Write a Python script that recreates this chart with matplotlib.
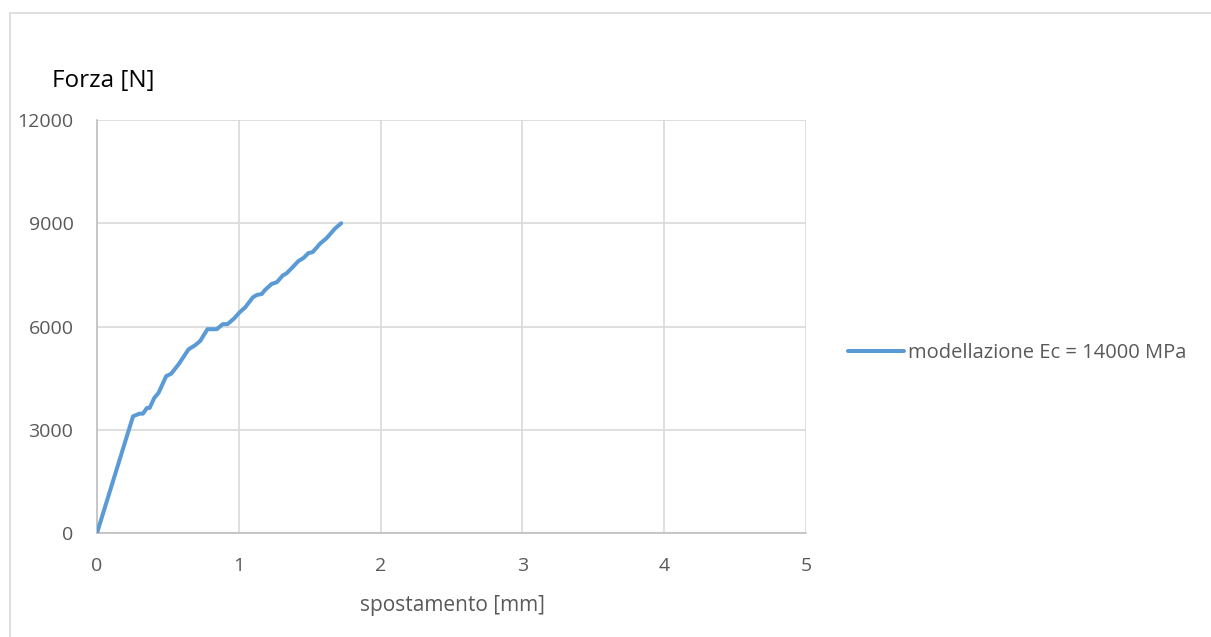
import matplotlib
matplotlib.use("Agg")
import matplotlib.pyplot as plt
from matplotlib.patches import Rectangle

# Load-displacement curve (displacement in mm, force in N)
spostamento = [0.0, 0.254, 0.300, 0.324, 0.352, 0.371, 0.404, 0.434, 0.488, 0.523,
               0.575, 0.646, 0.692, 0.728, 0.779, 0.845, 0.887, 0.920, 0.967, 1.005,
               1.045, 1.099, 1.127, 1.162, 1.185, 1.232, 1.268, 1.310, 1.338, 1.373,
               1.420, 1.455, 1.491, 1.521, 1.573, 1.620, 1.678, 1.722]
forza = [0, 3390, 3468, 3468, 3633, 3633, 3925, 4071, 4558, 4627,
         4899, 5338, 5455, 5581, 5922, 5922, 6068, 6068, 6234, 6409,
         6555, 6847, 6916, 6945, 7062, 7237, 7286, 7481, 7549, 7695,
         7899, 7987, 8133, 8162, 8406, 8571, 8844, 9000]
serie_label = "modellazione Ec = 14000 MPa"

x_ticks = [0, 1, 2, 3, 4, 5]
y_ticks = [0, 3000, 6000, 9000, 12000]

W, H = 1211, 637
fig = plt.figure(figsize=(W / 100, H / 100), dpi=100)
plt.rcParams['font.family'] = ['Open Sans', 'DejaVu Sans']

text_color = "#595959"
grid_color = "#d9d9d9"
line_color = "#5b9bd5"

# chart frame
fig.patches.append(Rectangle((10 / W, -0.05), 1.1, (H - 12.5) / H + 0.05,
                             transform=fig.transFigure, fill=False,
                             edgecolor=grid_color, linewidth=1.2))

left, right, top, bottom = 97, 806, 120, 533
ax = fig.add_axes([left / W, 1 - bottom / H, (right - left) / W, (bottom - top) / H])

ax.plot(spostamento, forza, color=line_color, linewidth=2.9,
        solid_capstyle="round", solid_joinstyle="round", label=serie_label, zorder=3)

ax.set_xlim(0, 5)
ax.set_ylim(0, 12000)
ax.set_xticks(x_ticks)
ax.set_yticks(y_ticks)
ax.set_xticklabels([str(t) for t in x_ticks])
ax.set_yticklabels([str(t) for t in y_ticks])
ax.grid(True, color=grid_color, linewidth=1.2, zorder=0)
ax.set_axisbelow(True)

for side in ["top", "right"]:
    ax.spines[side].set_visible(False)
for side in ["left", "bottom"]:
    ax.spines[side].set_color("#bfbfbf")
    ax.spines[side].set_linewidth(1.2)

ax.tick_params(axis="both", length=0, colors=text_color, labelsize=14)
ax.tick_params(axis="x", pad=17)
ax.tick_params(axis="y", pad=17)

fig.text(452 / W, 1 - 605 / H, "spostamento [mm]", ha="center", va="center",
         fontsize=15, color=text_color)
fig.text(52 / W, 1 - 81 / H, "Forza [N]", ha="left", va="center",
         fontsize=17.5, color="#000000")

leg = fig.legend(loc="center left", bbox_to_anchor=(848 / W, 1 - 353 / H),
                 frameon=False, fontsize=14.5, handlelength=2.8, handletextpad=0.2,
                 borderaxespad=0, borderpad=0)
for t in leg.get_texts():
    t.set_color(text_color)

fig.savefig("out.png", dpi=100)
